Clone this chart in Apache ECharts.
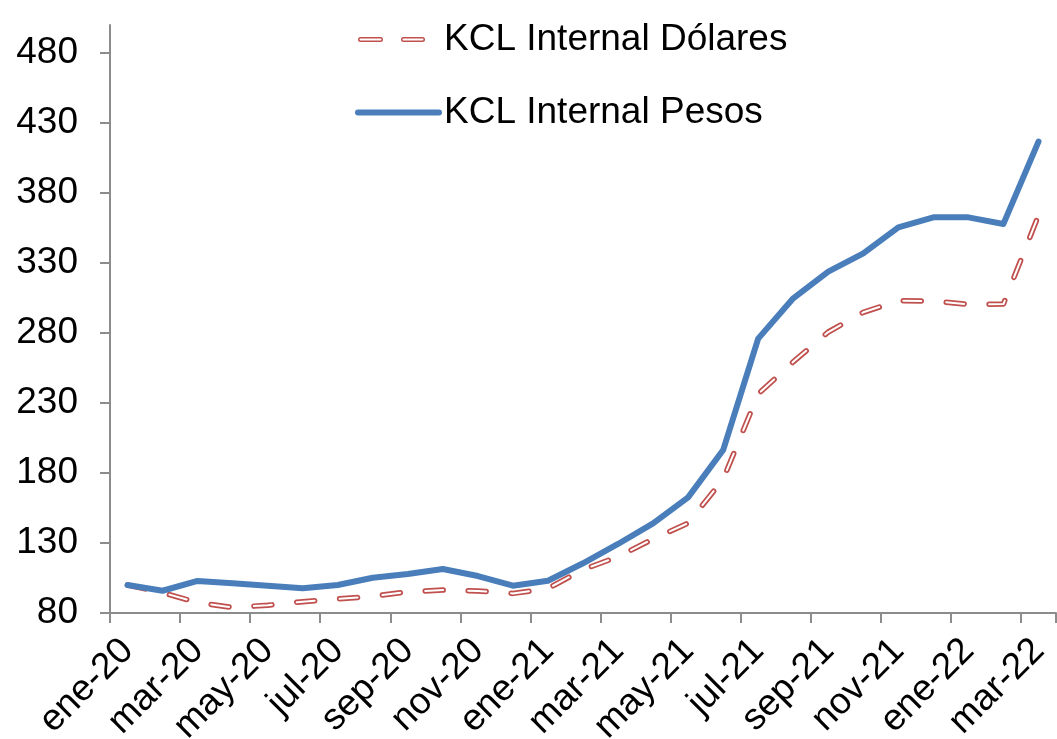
<!DOCTYPE html>
<html>
<head>
<meta charset="utf-8">
<script src="https://cdn.jsdelivr.net/npm/echarts@6/dist/echarts.min.js"></script>
<style>
html,body{margin:0;padding:0;background:#fff;}
#chart{width:1057px;height:739px;}
</style>
</head>
<body>
<div id="chart"></div>
<script>
const categories = ['ene-20','feb-20','mar-20','abr-20','may-20','jun-20','jul-20','ago-20','sep-20','oct-20','nov-20','dic-20',
  'ene-21','feb-21','mar-21','abr-21','may-21','jun-21','jul-21','ago-21','sep-21','oct-21','nov-21','dic-21',
  'ene-22','feb-22','mar-22'];
const dolares = [100, 94.5, 87.4, 84, 85.5, 88.1, 90, 91.9, 95.2, 96.4, 95.7, 94, 97.5,
  111, 120.2, 132.9, 144.2, 175.5, 236.4, 259.4, 280.7, 294.8, 303, 302.9, 300.5, 300.7, 364];
const pesos = [100, 95.9, 102.9, 101.2, 99.5, 97.6, 100, 105.2, 107.9, 111.4, 106.4, 99.5, 103,
  115.5, 129.3, 144, 162.6, 196.4, 276, 304.8, 323.8, 336.9, 355.5, 362.6, 362.6, 357.9, 416.7];
const yTicks = [80, 130, 180, 230, 280, 330, 380, 430, 480];
const seriesNames = ['KCL Internal Dólares', 'KCL Internal Pesos'];

const FONT = "'Liberation Sans', Arial, sans-serif";
const axisColor = '#8c8c8c';
const red = '#c0504d';
const blue = '#4a7ebb';

// hollow dashed legend icon (two capsules) in an 81x30 box
function capsule(x1, x2, y0, y1) {
  const r = (y1 - y0) / 2;
  return 'M' + (x1 + r) + ',' + y0 + ' L' + (x2 - r) + ',' + y0 +
    ' A' + r + ',' + r + ' 0 0 1 ' + (x2 - r) + ',' + y1 +
    ' L' + (x1 + r) + ',' + y1 +
    ' A' + r + ',' + r + ' 0 0 1 ' + (x1 + r) + ',' + y0 + ' Z';
}
const dashIcon = 'path://M0,0 M81,30 ' + capsule(0.75, 24.25, 13.25, 16.75) + ' ' + capsule(43.75, 66.25, 13.25, 16.75);

const chart = echarts.init(document.getElementById('chart'), null, {renderer: 'canvas'});
chart.setOption({
  animation: false,
  backgroundColor: '#ffffff',
  textStyle: {fontFamily: FONT},
  grid: {left: 110, right: 1, top: 25, bottom: 126, containLabel: false, outerBoundsMode: 'none'},
  legend: {
    data: [
      {name: seriesNames[0], icon: dashIcon, itemStyle: {color: '#ffffff', borderColor: red, borderWidth: 1.5}},
      {name: seriesNames[1], itemStyle: {opacity: 0}, lineStyle: {width: 6, color: blue, cap: 'round'}}
    ],
    orient: 'vertical',
    left: 355,
    top: 21,
    padding: 0,
    itemWidth: 81,
    itemHeight: 30,
    itemGap: 36,
    textStyle: {fontSize: 37, color: '#000', fontFamily: FONT}
  },
  xAxis: {
    type: 'category',
    data: categories,
    boundaryGap: true,
    axisLine: {lineStyle: {color: axisColor, width: 2}},
    axisTick: {show: true, interval: 1, length: 10, lineStyle: {color: axisColor, width: 2}},
    axisLabel: {interval: 1, rotate: 45, margin: 32, fontSize: 37, color: '#000', fontFamily: FONT},
    splitLine: {show: false}
  },
  yAxis: {
    type: 'value',
    min: 80,
    max: 500,
    interval: 50,
    axisLine: {show: true, lineStyle: {color: axisColor, width: 2}},
    axisTick: {show: true, length: 10, customValues: yTicks, lineStyle: {color: axisColor, width: 2}},
    axisLabel: {customValues: yTicks, margin: 32, fontSize: 37, color: '#000', fontFamily: FONT},
    splitLine: {show: false}
  },
  series: [
    {
      name: seriesNames[0],
      type: 'line',
      data: dolares,
      symbol: 'none',
      z: 2,
      lineStyle: {color: red, width: 5.5, type: [18, 25], cap: 'round', join: 'round'},
      itemStyle: {color: red}
    },
    {
      name: 'dolares-inner',
      type: 'line',
      data: dolares,
      symbol: 'none',
      z: 3,
      silent: true,
      lineStyle: {color: '#ffffff', width: 2, type: [18, 25], cap: 'round', join: 'round'},
      itemStyle: {color: '#ffffff'}
    },
    {
      name: seriesNames[1],
      type: 'line',
      data: pesos,
      symbol: 'none',
      z: 4,
      lineStyle: {color: blue, width: 6, cap: 'round', join: 'round'},
      itemStyle: {color: blue}
    }
  ]
});
</script>
</body>
</html>
